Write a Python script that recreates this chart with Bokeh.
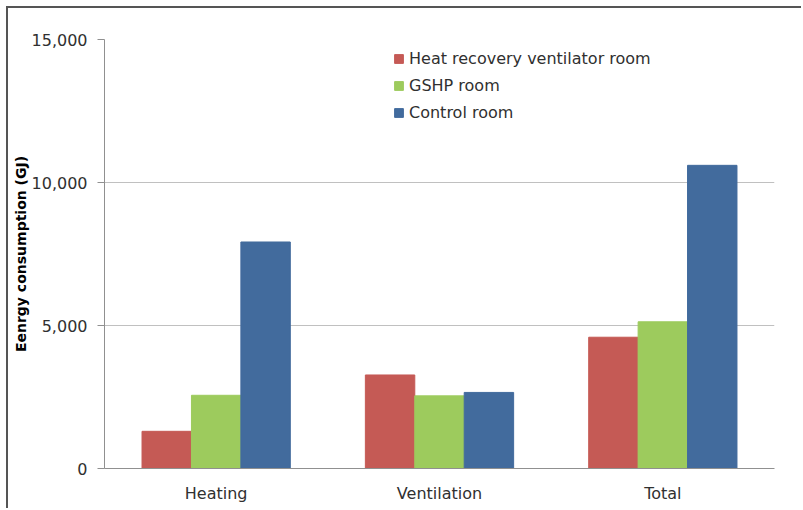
from bokeh.plotting import figure
from bokeh.models import FactorRange, FixedTicker, NumeralTickFormatter, Legend, LegendItem, ColumnDataSource
from bokeh.transform import dodge
from bokeh.embed import file_html
from bokeh.resources import INLINE

categories = ["Heating", "Ventilation", "Total"]
hrv_room = [1300, 3270, 4590]
gshp_room = [2560, 2540, 5130]
control_room = [7920, 2660, 10600]
series_names = ["Heat recovery ventilator room", "GSHP room", "Control room"]
y_ticks = [0, 5000, 10000, 15000]

colors = ["#C55A55", "#9DCB5D", "#426B9D"]
FONT = "DejaVu Sans"

src = ColumnDataSource(dict(cat=categories, a=hrv_room, b=gshp_room, c=control_room))

p = figure(x_range=FactorRange(*categories, range_padding=0), y_range=(0, 15000),
           width=795, height=502, output_backend="svg", toolbar_location=None,
           min_border_left=96, min_border_right=29, min_border_top=31, min_border_bottom=42)
p.styles = {"margin-left": "6px", "margin-top": "6px",
            "border-left": "2px solid #555555", "border-top": "2px solid #555555"}

bw = 0.2213
renderers = []
for col, off, c in zip(["a", "b", "c"], [-bw, 0, bw], colors):
    r = p.vbar(x=dodge("cat", off, range=p.x_range), top=col, width=bw, source=src,
               fill_color=c, line_color=c, line_width=1)
    renderers.append(r)

legend = Legend(items=[LegendItem(label=n, renderers=[r]) for n, r in zip(series_names, renderers)],
                location=(289, 346), padding=0, margin=0, spacing=7,
                glyph_width=11, glyph_height=11, label_height=20, label_standoff=5,
                label_text_font=FONT, label_text_font_size="16px", label_text_color="#303030",
                border_line_color=None, background_fill_alpha=0)
p.add_layout(legend, "center")

p.outline_line_color = None
p.xgrid.grid_line_color = None
p.ygrid.grid_line_color = "#C0C0C0"
p.ygrid.ticker = FixedTicker(ticks=y_ticks)

p.yaxis.ticker = FixedTicker(ticks=y_ticks)
p.yaxis.formatter = NumeralTickFormatter(format="0,0")
p.yaxis.axis_line_color = "#909090"
p.yaxis.major_tick_line_color = "#909090"
p.yaxis.major_tick_out = 7
p.yaxis.major_tick_in = 0
p.yaxis.minor_tick_line_color = None
p.yaxis.major_label_text_font = FONT
p.yaxis.major_label_text_font_size = "16px"
p.yaxis.major_label_text_color = "#303030"
p.yaxis.major_label_standoff = 10
p.yaxis.axis_label = "Eenrgy consumption (GJ)"
p.yaxis.axis_label_text_font = FONT
p.yaxis.axis_label_text_font_style = "bold"
p.yaxis.axis_label_text_font_size = "14px"
p.yaxis.axis_label_text_color = "#000000"
p.yaxis.axis_label_standoff = 0

p.xaxis.axis_line_color = "#909090"
p.xaxis.major_tick_line_color = None
p.xaxis.minor_tick_line_color = None
p.xaxis.major_label_text_font = FONT
p.xaxis.major_label_text_font_size = "16px"
p.xaxis.major_label_text_color = "#303030"
p.xaxis.major_label_standoff = 9

open("out.html", "w").write(file_html(p, INLINE))
